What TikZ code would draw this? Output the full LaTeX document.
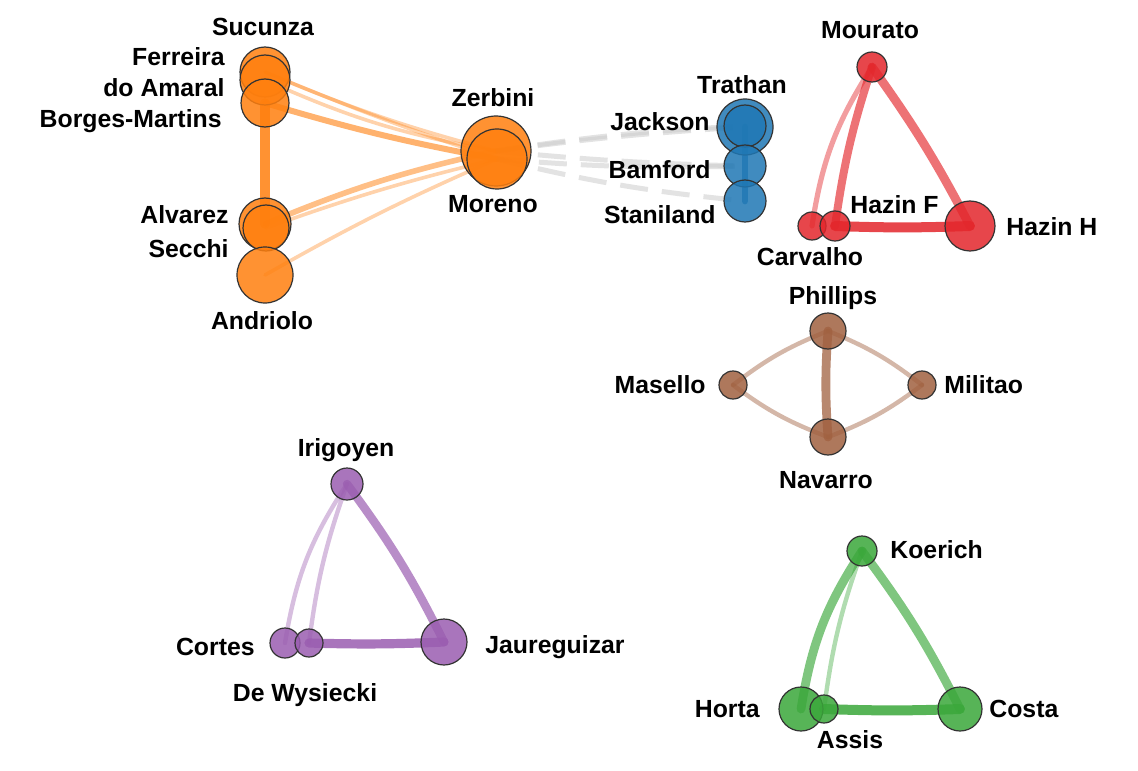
\documentclass[tikz,border=0pt]{standalone}
\usepackage{fontspec}
\setmainfont{Liberation Sans}
\usetikzlibrary{backgrounds}

\definecolor{nOrange}{HTML}{FF7F0E}
\definecolor{nBlue}{HTML}{1F77B4}
\definecolor{nRed}{HTML}{E3262B}
\definecolor{nBrown}{HTML}{A0603F}
\definecolor{nPurple}{HTML}{9A5DB0}
\definecolor{nGreen}{HTML}{3AA73A}

\begin{document}
\begin{tikzpicture}[x=0.5pt, y=-0.5pt,
    vtx/.style={circle, inner sep=0pt, fill=#1, fill opacity=0.85, draw=black!80, line width=0.6pt},
    lab/.style={inner sep=0pt, align=center, font=\bfseries\fontsize{12.4}{15.5}\selectfont},
    ed/.style={draw=#1, line cap=round},
    gd/.style={draw=black!20, line width=2.5pt, dash pattern=on 14pt off 7pt, opacity=.55}]
    \useasboundingbox (0,0) rectangle (1138,770);

    % orange group
    \node[vtx=nOrange, minimum size=25pt] (sucunza) at (265,72) {};
    \node[vtx=nOrange, minimum size=25pt] (ferreira) at (265,80) {};
    \node[vtx=nOrange, minimum size=24pt] (borges) at (265,103) {};
    \node[vtx=nOrange, minimum size=26pt] (alvarez) at (265,224) {};
    \node[vtx=nOrange, minimum size=23pt] (secchi) at (266,228) {};
    \node[vtx=nOrange, minimum size=28pt] (andriolo) at (265,275) {};
    \node[vtx=nOrange, minimum size=35pt] (zerbini) at (496,151) {};
    \node[vtx=nOrange, minimum size=30pt] (moreno) at (497,159) {};

    % blue group
    \node[vtx=nBlue, minimum size=28pt] (trathan) at (745,127) {};
    \node[vtx=nBlue, minimum size=21pt] (jackson) at (745,126) {};
    \node[vtx=nBlue, minimum size=21pt] (bamford) at (745,166) {};
    \node[vtx=nBlue, minimum size=21pt] (staniland) at (745,201) {};

    % red group
    \node[vtx=nRed, minimum size=15pt] (mourato) at (872,67) {};
    \node[vtx=nRed, minimum size=14pt] (carvalho) at (812,226) {};
    \node[vtx=nRed, minimum size=15pt] (hazinf) at (835,226) {};
    \node[vtx=nRed, minimum size=25pt] (hazinh) at (970,226) {};

    % brown group
    \node[vtx=nBrown, minimum size=18pt] (phillips) at (828,331) {};
    \node[vtx=nBrown, minimum size=14pt] (masello) at (733,385) {};
    \node[vtx=nBrown, minimum size=14pt] (militao) at (922,385) {};
    \node[vtx=nBrown, minimum size=18pt] (navarro) at (828,437) {};

    % purple group
    \node[vtx=nPurple, minimum size=16pt] (irigoyen) at (347,484) {};
    \node[vtx=nPurple, minimum size=15pt] (cortes) at (285,643) {};
    \node[vtx=nPurple, minimum size=14pt] (dewysiecki) at (309,643) {};
    \node[vtx=nPurple, minimum size=23pt] (jaureguizar) at (444,642) {};

    % green group
    \node[vtx=nGreen, minimum size=15pt] (koerich) at (862,551) {};
    \node[vtx=nGreen, minimum size=22pt] (horta) at (801,709) {};
    \node[vtx=nGreen, minimum size=14pt] (assis) at (824,709) {};
    \node[vtx=nGreen, minimum size=22pt] (costa) at (960,709) {};

    \begin{scope}[on background layer]
        \draw[ed=nOrange, line width=1.8pt, opacity=.35] (sucunza.center) to[bend right=4] (zerbini.center);
        \draw[ed=nOrange, line width=1.8pt, opacity=.35] (ferreira.center) to[bend right=7] (zerbini.center);
        \draw[ed=nOrange, line width=1.8pt, opacity=.35] (sucunza.center) to[bend right=2] (moreno.center);
        \draw[ed=nOrange, line width=3pt, opacity=.6] (borges.center) to[bend right=3] (moreno.center);
        \draw[ed=nOrange, line width=4.6pt, opacity=.85] (borges.center) -- (alvarez.center);
        \draw[ed=nOrange, line width=2.8pt, opacity=.5] (alvarez.center) to[bend left=5] (zerbini.center);
        \draw[ed=nOrange, line width=1.8pt, opacity=.35] (secchi.center) to[bend left=3] (moreno.center);
        \draw[ed=nOrange, line width=1.8pt, opacity=.35] (andriolo.center) to[bend left=3] (moreno.center);

        \draw[gd] (zerbini.center) to[bend left=3] (jackson.center);
        \draw[gd] (zerbini.center) to[bend left=2] (trathan.center);
        \draw[gd] (moreno.center) to[bend right=3] (bamford.center);
        \draw[gd] (zerbini.center) to[bend right=2] (bamford.center);
        \draw[gd] (moreno.center) to[bend right=4] (staniland.center);
        \draw[ed=nBlue, line width=3.4pt, opacity=.8] (trathan.center) -- (staniland.center);

        \draw[ed=nRed, line width=2.6pt, opacity=.45] (mourato.center) to[bend right=12] (carvalho.center);
        \draw[ed=nRed, line width=4pt, opacity=.65] (mourato.center) to[bend right=5] (hazinf.center);
        \draw[ed=nRed, line width=4.4pt, opacity=.65] (mourato.center) to[bend left=4] (hazinh.center);
        \draw[ed=nRed, line width=5pt, opacity=.85] (hazinf.center) to[bend right=2] (hazinh.center);

        \draw[ed=nBrown, line width=2.2pt, opacity=.45] (phillips.center) to[bend right=8] (masello.center);
        \draw[ed=nBrown, line width=2.2pt, opacity=.45] (phillips.center) to[bend left=8] (militao.center);
        \draw[ed=nBrown, line width=2.2pt, opacity=.45] (masello.center) to[bend right=8] (navarro.center);
        \draw[ed=nBrown, line width=2.2pt, opacity=.45] (militao.center) to[bend left=8] (navarro.center);
        \draw[ed=nBrown, line width=4.4pt, opacity=.75] (phillips.center) to[bend right=4] (navarro.center);

        \draw[ed=nPurple, line width=2.2pt, opacity=.4] (irigoyen.center) to[bend right=12] (cortes.center);
        \draw[ed=nPurple, line width=2.2pt, opacity=.4] (irigoyen.center) to[bend right=6] (dewysiecki.center);
        \draw[ed=nPurple, line width=4.2pt, opacity=.7] (irigoyen.center) to[bend left=5] (jaureguizar.center);
        \draw[ed=nPurple, line width=4.6pt, opacity=.85] (dewysiecki.center) to[bend right=2] (jaureguizar.center);

        \draw[ed=nGreen, line width=4.4pt, opacity=.65] (koerich.center) to[bend right=12] (horta.center);
        \draw[ed=nGreen, line width=2.2pt, opacity=.4] (koerich.center) to[bend right=6] (assis.center);
        \draw[ed=nGreen, line width=4.4pt, opacity=.65] (koerich.center) to[bend left=5] (costa.center);
        \draw[ed=nGreen, line width=5pt, opacity=.85] (assis.center) to[bend right=2] (costa.center);
    \end{scope}

    % labels
    \node[lab] (tSucunza) at (263,27) {Sucunza};
    \node[lab, align=right, anchor=east] (tFerreira) at (225,72) {Ferreira\\do Amaral};
    \node[lab, anchor=east] (tBorges) at (222,121) {Borges-Martins};
    \node[lab] (tZerbini) at (493,98) {Zerbini};
    \node[lab] (tMoreno) at (493,204) {Moreno};
    \node[lab, anchor=east] (tAlvarez) at (229,215) {Alvarez};
    \node[lab, anchor=east] (tSecchi) at (229,249) {Secchi};
    \node[lab] (tAndriolo) at (262,321) {Andriolo};
    \node[lab] (tTrathan) at (742,85) {Trathan};
    \node[lab, anchor=east] (tJackson) at (710,122) {Jackson};
    \node[lab, anchor=east] (tBamford) at (711,170) {Bamford};
    \node[lab, anchor=east] (tStaniland) at (716,215) {Staniland};
    \node[lab] (tMourato) at (870,30) {Mourato};
    \node[lab, anchor=west] (tHazinF) at (850,205) {Hazin F};
    \node[lab] (tCarvalho) at (810,257) {Carvalho};
    \node[lab, anchor=west] (tHazinH) at (1006,227) {Hazin H};
    \node[lab] (tPhillips) at (833,298) {Phillips};
    \node[lab, anchor=east] (tMasello) at (706,385) {Masello};
    \node[lab, anchor=west] (tMilitao) at (944,385) {Militao};
    \node[lab] (tNavarro) at (826,480) {Navarro};
    \node[lab] (tIrigoyen) at (346,450) {Irigoyen};
    \node[lab, anchor=east] (tCortes) at (255,647) {Cortes};
    \node[lab] (tDeWysiecki) at (305,695) {De Wysiecki};
    \node[lab, anchor=west] (tJaureguizar) at (485,647) {Jaureguizar};
    \node[lab, anchor=west] (tKoerich) at (890,550) {Koerich};
    \node[lab, anchor=east] (tHorta) at (760,709) {Horta};
    \node[lab] (tAssis) at (850,740) {Assis};
    \node[lab, anchor=west] (tCosta) at (989,709) {Costa};
\end{tikzpicture}
\end{document}
